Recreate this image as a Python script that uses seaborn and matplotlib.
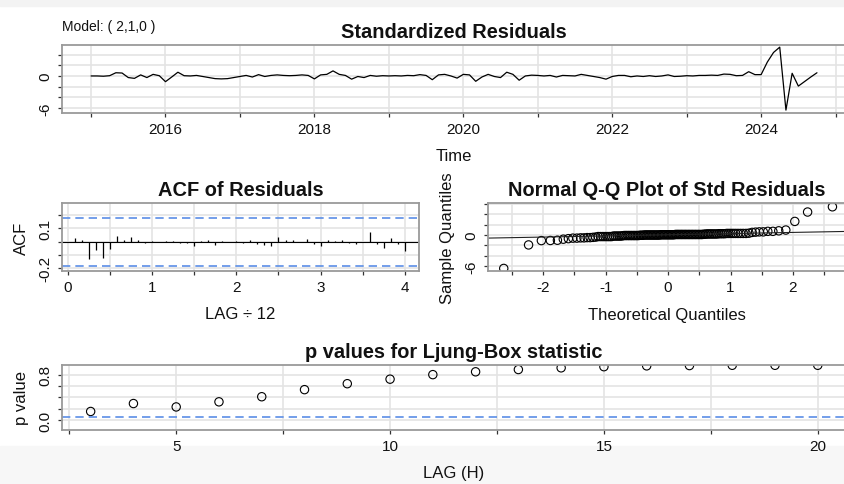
import numpy as np
import pandas as pd
import matplotlib
matplotlib.use("Agg")
import matplotlib.pyplot as plt
from matplotlib.ticker import MultipleLocator, FixedLocator, FormatStrFormatter
from matplotlib.patches import Rectangle
import seaborn as sns
from statistics import NormalDist

# Standardized residuals, monthly from Jan 2015 to Oct 2024
resid_2015 = [0.0, 0.0, -0.05, 0.05, 0.6, 0.55, -0.3, -0.45, 0.2, -0.3, 0.3, 0.05]
resid_2016 = [-1.07, -0.2, 0.7, 0.05, 0.0, 0.1, -0.1, -0.3, -0.5, -0.55, -0.5, -0.3]
resid_2017 = [-0.1, 0.1, -0.2, 0.25, -0.1, 0.1, 0.2, 0.1, 0.05, 0.1, 0.2, 0.1]
resid_2018 = [-0.55, 0.2, 0.3, 0.95, 0.3, 0.1, -0.6, -0.1, -0.3, 0.1, -0.05, 0.05]
resid_2019 = [0.0, 0.05, 0.0, 0.1, 0.05, 0.25, 0.1, -0.7, 0.2, 0.3, 0.0, -0.4]
resid_2020 = [0.3, 0.2, -1.0, -0.2, 0.3, -0.1, -0.3, 0.7, 0.3, -0.8, 0.0, 0.15]
resid_2021 = [0.1, 0.0, 0.1, -0.2, 0.1, 0.05, 0.0, 0.3, 0.1, -0.1, -0.3, -0.6]
resid_2022 = [-0.1, 0.1, 0.1, -0.15, 0.0, -0.1, 0.05, -0.1, 0.0, 0.2, -0.1, -0.05]
resid_2023 = [0.05, 0.0, 0.1, 0.1, 0.15, 0.1, 0.35, 0.3, 0.05, 0.1, 0.8, 0.25]
resid_2024 = [0.25, 2.6, 4.4, 5.4, -6.4, 0.5, -1.9, -1.05, -0.2, 0.6]
start_year = 2015

# ACF of residuals, lags 1..48 (months)
acf_vals = [0.03, 0.015, -0.13, -0.06, -0.125, -0.055, 0.045, 0.01, 0.035, 0.015,
            -0.01, 0.005, -0.005, 0.003, 0.005, -0.01, -0.01, -0.03, 0.005, 0.015,
            -0.025, 0.005, 0.0, 0.005, -0.01, 0.015, -0.015, -0.025, -0.03, 0.035,
            0.015, 0.01, -0.005, 0.02, -0.015, -0.03, 0.015, 0.005, 0.015, -0.01,
            -0.02, 0.0, 0.07, -0.015, -0.05, 0.025, -0.015, -0.07]
acf_bound = 0.18

# Ljung-Box p values
lb_lags = list(range(3, 21))
lb_pvals = [0.15, 0.29, 0.23, 0.32, 0.41, 0.535, 0.64, 0.72, 0.80, 0.85,
            0.89, 0.92, 0.94, 0.955, 0.96, 0.965, 0.965, 0.965]
lb_level = 0.05

model_label = "Model: ( 2,1,0 )"

# build tables
std_resid = (resid_2015 + resid_2016 + resid_2017 + resid_2018 + resid_2019
             + resid_2020 + resid_2021 + resid_2022 + resid_2023 + resid_2024)
n = len(std_resid)
df_ts = pd.DataFrame({"time": start_year + np.arange(n) / 12, "resid": std_resid})
df_acf = pd.DataFrame({"lag": np.arange(1, len(acf_vals) + 1) / 12, "acf": acf_vals})
df_lb = pd.DataFrame({"lag": lb_lags, "p": lb_pvals})

nd = NormalDist()
probs = (np.arange(1, n + 1) - 0.5) / n
df_qq = pd.DataFrame({"theo": [nd.inv_cdf(p) for p in probs], "sample": np.sort(std_resid)})
q1, q3 = np.percentile(std_resid, [25, 75])
slope = (q3 - q1) / (nd.inv_cdf(0.75) - nd.inv_cdf(0.25))
intercept = q1 - slope * nd.inv_cdf(0.25)

sns.set_theme(style="whitegrid")
plt.rcParams['font.family'] = ['Liberation Sans', 'DejaVu Sans']
plt.rcParams['axes.unicode_minus'] = False

GRID = '#e4e4e4'
SPINE = '#9a9a9a'
BLUE = '#5b8ee6'
W, H = 845, 485

fig = plt.figure(figsize=(W / 100, H / 100), dpi=100)
fig.patch.set_facecolor('white')
fig.patches.append(Rectangle((0, 1 - 7 / H), 1, 7 / H, transform=fig.transFigure,
                             color='#f3f3f3', zorder=-1))
fig.patches.append(Rectangle((0, 0), 1, 38 / H, transform=fig.transFigure,
                             color='#f7f7f7', zorder=-1))


def make_axes(left, top, right, bottom):
    return fig.add_axes([left / W, 1 - bottom / H, (right - left) / W, (bottom - top) / H])


def style(ax, xmajor, xminor, ymajor, yminor):
    ax.set_facecolor('white')
    ax.set_axisbelow(True)
    ax.xaxis.set_major_locator(FixedLocator(xmajor))
    ax.xaxis.set_minor_locator(MultipleLocator(xminor))
    ax.yaxis.set_major_locator(FixedLocator(ymajor))
    ax.yaxis.set_minor_locator(MultipleLocator(yminor))
    ax.grid(True, which='both', color=GRID, linewidth=1.2)
    for s in ax.spines.values():
        s.set_color(SPINE)
        s.set_linewidth(1.3)
    ax.tick_params(which='both', direction='out', length=3, width=0.9, color='#333333',
                   bottom=True, left=True)
    ax.tick_params(axis='x', labelsize=11, pad=3.5, labelcolor='#111111')
    ax.tick_params(axis='y', labelsize=11, pad=4, labelrotation=90, labelcolor='#111111')
    for lab in ax.get_yticklabels():
        lab.set_va('center')


def labels(ax, xlabel, xy, ylabel=None, yx=None, title=None, tpad=6):
    ax.set_xlabel(xlabel, fontsize=12, va='center', color='#111111')
    ax.xaxis.set_label_coords(0.5, xy)
    if ylabel:
        ax.set_ylabel(ylabel, fontsize=12, va='center', color='#111111')
        ax.yaxis.set_label_coords(yx, 0.5)
    else:
        ax.set_ylabel('')
    if title:
        ax.set_title(title, fontsize=14.4, fontweight='bold', pad=tpad, color='#111111')


# Standardized residuals
ax1 = make_axes(62, 46, 846, 114)
sns.lineplot(data=df_ts, x="time", y="resid", ax=ax1, color='black', linewidth=0.9)
ax1.set_xlim(2014.61, 2025.14)
ax1.set_ylim(-6.94, 5.8)
style(ax1, [2016, 2018, 2020, 2022, 2024], 1, [-6, 0], 2)
labels(ax1, "Time", -0.632, title="Standardized Residuals")
fig.text(62 / W, 1 - 27 / H, model_label, fontsize=10, va='center', ha='left', color='#111111')

# ACF of residuals
ax2 = make_axes(62, 204.3, 419, 271.7)
ax2.vlines(df_acf["lag"], 0, df_acf["acf"], color='black', linewidth=0.9)
ax2.axhline(0, color='black', linewidth=0.8)
for b in (acf_bound, -acf_bound):
    ax2.axhline(b, color=BLUE, linestyle=(0, (5, 3)), linewidth=1.2)
ax2.set_xlim(-0.067, 4.166)
ax2.set_ylim(-0.218, 0.289)
style(ax2, [0, 1, 2, 3, 4], 0.5, [-0.2, 0.1], 0.1)
labels(ax2, "LAG \u00f7 12", -0.642, "ACF", -0.113, title="ACF of Residuals")

# Normal Q-Q plot
ax3 = make_axes(488.3, 204.3, 846, 272.3)
sns.scatterplot(data=df_qq, x="theo", y="sample", ax=ax3, color='none', edgecolor='black',
                s=36, linewidth=0.8, marker='o')
ax3.axline((0, intercept), slope=slope, color='#222222', linewidth=0.8)
ax3.set_xlim(-2.88, 2.85)
ax3.set_ylim(-6.95, 6.07)
style(ax3, [-2, -1, 0, 1, 2], 0.5, [-6, 0], 2)
labels(ax3, "Theoretical Quantiles", -0.628, "Sample Quantiles", -0.1146,
       title="Normal Q-Q Plot of Std Residuals")

# Ljung-Box p values
ax4 = make_axes(62, 366, 846, 431)
ax4.axhline(lb_level, color=BLUE, linestyle=(0, (5, 3)), linewidth=1.2)
sns.scatterplot(data=df_lb, x="lag", y="p", ax=ax4, color='none', edgecolor='black',
                s=36, linewidth=0.8, marker='o')
ax4.set_xlim(2.33, 20.66)
ax4.set_ylim(-0.177, 0.97)
style(ax4, [5, 10, 15, 20], 2.5, [0.0, 0.8], 0.2)
ax4.yaxis.set_major_formatter(FormatStrFormatter('%.1f'))
labels(ax4, "LAG (H)", -0.66, "p value", -0.0514, title="p values for Ljung-Box statistic")

fig.savefig("out.png", dpi=100)
